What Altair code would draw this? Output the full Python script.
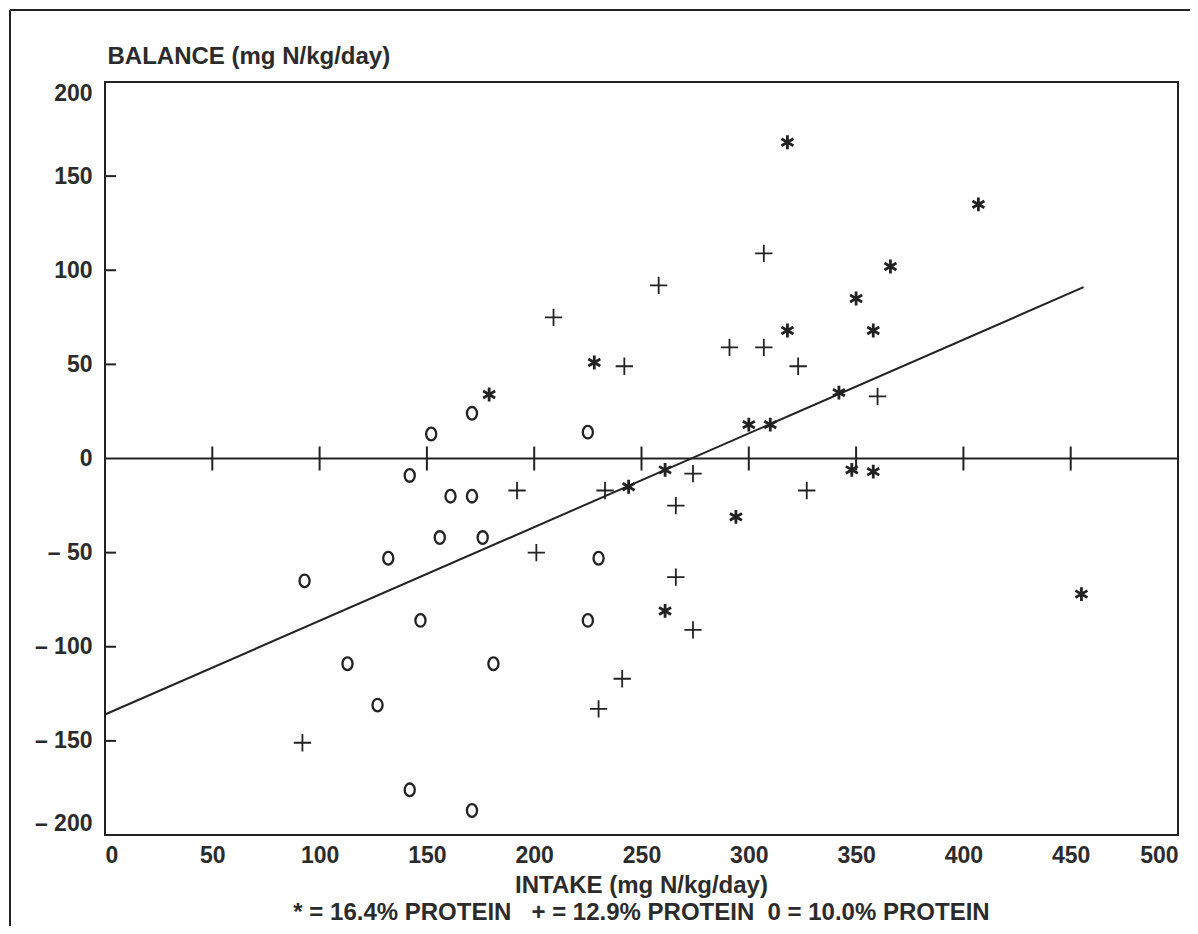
import altair as alt
import pandas as pd

# ---- data ----
star_x = [179, 228, 261, 244, 318, 407, 366, 350, 318, 358, 342, 300, 310, 348, 358, 294, 261, 455]
star_y = [34, 51, -6, -15, 168, 135, 102, 85, 68, 68, 35, 18, 18, -6, -7, -31, -81, -72]

plus_x = [209, 242, 258, 307, 291, 307, 323, 360, 274, 327, 192, 233, 266, 201, 266, 274, 241, 230, 92]
plus_y = [75, 49, 92, 109, 59, 59, 49, 33, -8, -17, -17, -17, -25, -50, -63, -91, -117, -133, -151]

circ_x = [152, 171, 142, 161, 171, 156, 176, 132, 93, 147, 113, 181, 127, 142, 171, 225, 230, 225]
circ_y = [13, 24, -9, -20, -20, -42, -42, -53, -65, -86, -109, -109, -131, -176, -187, 14, -53, -86]

fit_x = [0, 456]
fit_y = [-136, 91]

x_ticks = [0, 50, 100, 150, 200, 250, 300, 350, 400, 450, 500]
y_ticks = [-200, -150, -100, -50, 0, 50, 100, 150, 200]
zero_line_ticks = [50, 100, 150, 200, 250, 300, 350, 400, 450]
left_inner_ticks = [-150, -100, -50, 50, 100, 150]

NB = "\u00a0"
x_title = [
    "INTAKE (mg N/kg/day)",
    f"*{NB}={NB}16.4%{NB}PROTEIN{NB}{NB}{NB}+{NB}={NB}12.9%{NB}PROTEIN{NB}{NB}0{NB}={NB}10.0%{NB}PROTEIN",
]
y_title = "BALANCE (mg N/kg/day)"

INK = "#222222"
TXT = "#2b2b2b"
FONT = "Liberation Sans"

W, H = 1073, 753

X = alt.X(
    "x:Q",
    scale=alt.Scale(domain=[0, 500], nice=False, zero=False),
    axis=alt.Axis(
        values=x_ticks, grid=False, domain=False, ticks=False, tickSize=0,
        labelFlush=True, labelFontSize=23, labelFontWeight="bold", labelFont=FONT,
        labelColor=TXT, labelPadding=9, format="d",
        title=x_title, titleFont=FONT, titleFontSize=24, titleFontWeight="bold",
        titleColor=TXT, titleX=536, titleY=57, titleAlign="center",
        titleBaseline="alphabetic", titleLineHeight=27, titleAngle=0,
    ),
)

Y = alt.Y(
    "y:Q",
    scale=alt.Scale(domain=[-200, 200], nice=False, zero=False),
    axis=alt.Axis(
        values=y_ticks, grid=False, domain=False, ticks=False, tickSize=0,
        labelFlush=True, labelFontSize=23, labelFontWeight="bold", labelFont=FONT,
        labelColor=TXT, labelPadding=13,
        labelExpr="datum.value < 0 ? '\u2013 ' + abs(datum.value) : datum.label",
        title=y_title, titleFont=FONT, titleFontSize=24, titleFontWeight="bold",
        titleColor=TXT, titleX=2, titleY=-19, titleAngle=0, titleAlign="left",
        titleBaseline="alphabetic",
    ),
)

STAR = "M0,-1L0,1M-0.87,-0.5L0.87,0.5M-0.87,0.5L0.87,-0.5"
PLUS = "M-1,0L1,0M0,-1L0,1"
OVAL = "M0,-1A0.8,1 0 1,1 0,1A0.8,1 0 1,1 0,-1Z"


def pts(xs, ys, shape, size, sw):
    df = pd.DataFrame({"x": xs, "y": ys})
    return alt.Chart(df).mark_point(
        shape=shape, size=size, strokeWidth=sw, filled=False, color=INK, opacity=1
    ).encode(x=X, y=Y)


zero_df = pd.DataFrame({"y": [0]})
zero_rule = alt.Chart(zero_df).mark_rule(color=INK, strokeWidth=2).encode(y=Y)

zt_df = pd.DataFrame({"x": zero_line_ticks, "y": [0] * len(zero_line_ticks)})
zero_ticks = alt.Chart(zt_df).mark_tick(
    orient="vertical", size=24, thickness=2, color=INK, opacity=1
).encode(x=X, y=Y)

lt_df = pd.DataFrame({"y": left_inner_ticks})
left_ticks = alt.Chart(lt_df).mark_rule(color=INK, strokeWidth=2).encode(
    x=alt.value(0), x2=alt.value(11), y=Y
)

fit_df = pd.DataFrame({"x": fit_x, "y": fit_y})
fit_line = alt.Chart(fit_df).mark_line(color=INK, strokeWidth=2).encode(x=X, y=Y)

one = pd.DataFrame({"a": [0]})
frame_top = alt.Chart(one).mark_rule(color=INK, strokeWidth=2).encode(
    x=alt.value(-95), x2=alt.value(1085), y=alt.value(-72)
)
frame_left = alt.Chart(one).mark_rule(color=INK, strokeWidth=2).encode(
    x=alt.value(-95), y=alt.value(-72), y2=alt.value(844)
)

chart = alt.layer(
    zero_rule,
    zero_ticks,
    left_ticks,
    fit_line,
    pts(circ_x, circ_y, OVAL, 160, 2.3),
    pts(plus_x, plus_y, PLUS, 300, 1.8),
    pts(star_x, star_y, STAR, 190, 2.8),
    frame_top,
    frame_left,
).properties(
    width=W,
    height=H,
    padding={"left": 97, "top": 74, "right": 12, "bottom": 91},
    autosize=alt.AutoSizeParams(type="none"),
).configure_view(stroke=INK, strokeWidth=2)

chart.save("out.html", embed_options={"renderer": "svg", "actions": False})
